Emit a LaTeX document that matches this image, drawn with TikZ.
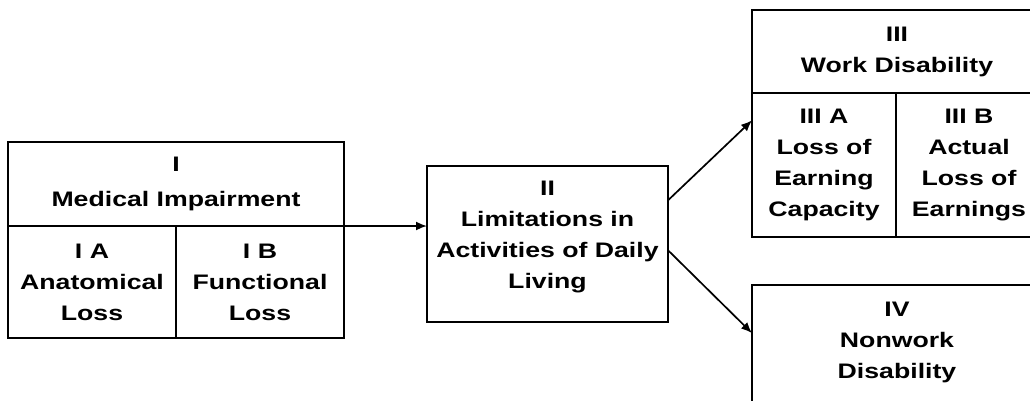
\documentclass[tikz,border=0pt]{standalone}
\usepackage{fontspec}
\newfontfamily\boxfont{Liberation Sans Bold}[FakeStretch=1.27]
\usetikzlibrary{
  arrows.meta,
  calc,
  positioning,
}

\begin{document}
\begin{tikzpicture}[x=1pt,y=-1pt,>={Latex[length=11pt,width=9pt]}]%
\tikzstyle{cell}=[rectangle,draw,line width=2pt,inner sep=0pt,outer sep=0pt,align=center,font=\boxfont\fontsize{21pt}{31pt}\selectfont]
\tikzstyle{words}=[align=center,inner sep=0pt,font=\boxfont\fontsize{21pt}{31pt}\selectfont]
\tikzstyle{link}=[->,line width=1.7pt]
\useasboundingbox (0,0) rectangle (1030,400);
\clip (0,0) rectangle (1030,400);
% impairment
\node[cell,minimum width=336pt,minimum height=84pt,anchor=north west] (medical) at (8,142) {I\\[4pt]Medical Impairment};
\node[cell,minimum width=168pt,minimum height=112pt] (anat) [below right=0pt and 0pt of medical.south west] {I A\\Anatomical\\Loss};
\node[cell,minimum width=168pt,minimum height=112pt] (func) [right=0pt of anat] {I B\\Functional\\Loss};
% daily living
\node[cell,minimum width=241pt,minimum height=156pt,anchor=north west] (lim) at (427,166) {};
\node[words] (limtext) at ([yshift=7pt]lim.center) {II\\Limitations in\\Activities of Daily\\Living};
% disability
\node[cell,minimum width=290pt,minimum height=83pt,anchor=north west] (work) at (752,10) {III\\Work Disability};
\node[cell,minimum width=144pt,minimum height=144pt] (earncap) [below right=0pt and 0pt of work.south west] {III A\\Loss of\\Earning\\Capacity};
\node[cell,minimum width=146pt,minimum height=144pt] (earnact) [right=0pt of earncap] {III B\\Actual\\Loss of\\Earnings};
\node[cell,minimum width=290pt,minimum height=130pt] (nonwork) [below right=48pt and 0pt of earncap.south west] {};
\node[words] (nonworktext) at ([yshift=8pt]nonwork.center) {IV\\Nonwork\\Disability};
\draw[link] (medical.south east) -- (medical.south east -| lim.west);
\draw[link] ($(lim.north east)!0.22!(lim.south east)$) -- ($(earncap.north west)!0.19!(earncap.south west)$);
\draw[link] ($(lim.north east)!0.54!(lim.south east)$) -- ($(nonwork.north west)!0.37!(nonwork.south west)$);
\end{tikzpicture}
\end{document}
